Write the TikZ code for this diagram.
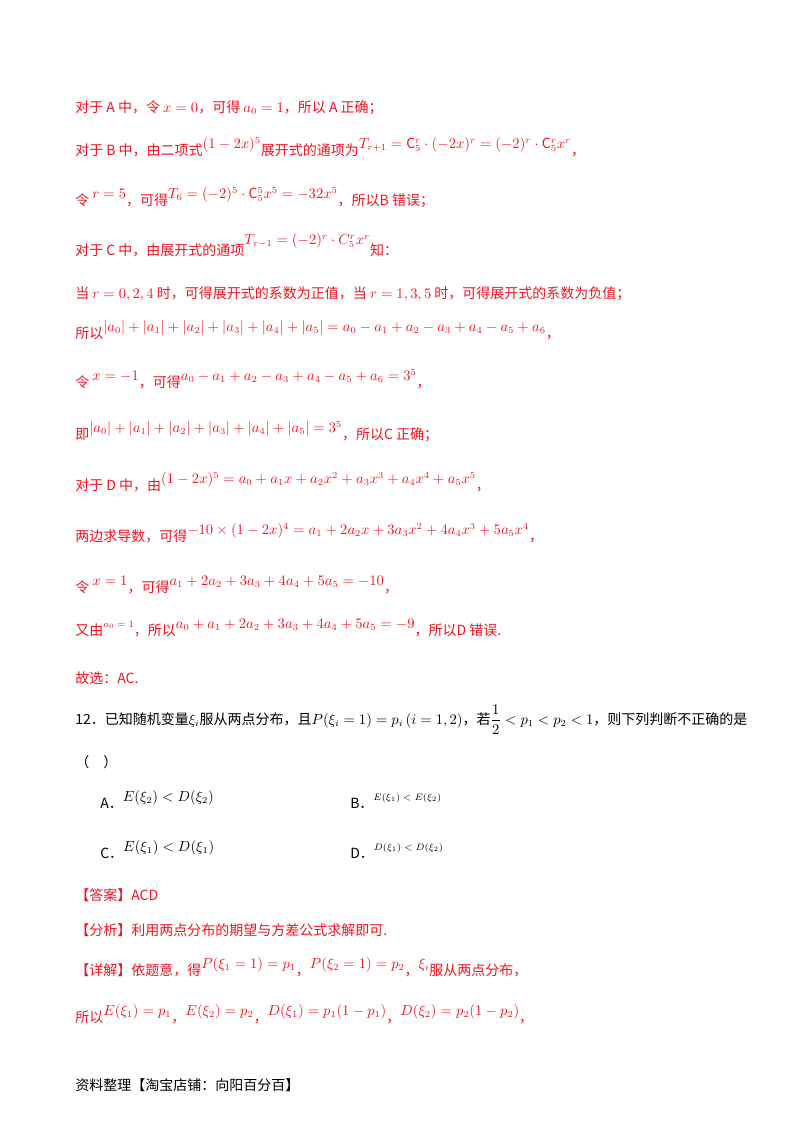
\documentclass[tikz,border=0pt]{standalone}
\usepackage{amsmath}
\usepackage{fontspec}
\setmainfont{Noto Sans CJK SC}
\definecolor{rd}{RGB}{240,20,30}
\newcommand{\upm}[1]{\raisebox{5pt}{$#1$}}
\newcommand{\ups}[1]{\raisebox{6pt}{\scriptsize$#1$}}
\begin{document}
\begin{tikzpicture}[x=0.75pt,y=-0.75pt,
  ln/.style={anchor=base west,inner sep=0pt,font=\fontsize{10.5}{12}\selectfont},
  red/.style={ln,text=rd}]
\useasboundingbox (0,0) rectangle (800,1132);
\fill[white] (0,0) rectangle (800,1132);
\node[red] (l1) at (75,112) {对于 A 中，令 $x=0$，可得 $a_0=1$，所以 A 正确；};
\node[red] (l2) at (75,155) {对于 B 中，由二项式\upm{(1-2x)^5}展开式的通项为\upm{T_{r+1}=\mathrm{C}_5^r\cdot(-2x)^r=(-2)^r\cdot\mathrm{C}_5^rx^r}，};
\node[red] (l3) at (75,205) {令 \upm{r=5}，可得\upm{T_6=(-2)^5\cdot\mathrm{C}_5^5x^5=-32x^5}，所以B 错误；};
\node[red] (l4) at (75,255) {对于 C 中，由展开式的通项\raisebox{8pt}{$T_{r-1}=(-2)^r\cdot C_5^rx^r$}知：};
\node[red] (l5) at (75,298) {当 $r=0,2,4$ 时，可得展开式的系数为正值，当 $r=1,3,5$ 时，可得展开式的系数为负值；};
\node[red] (l6) at (75,338) {所以\upm{|a_0|+|a_1|+|a_2|+|a_3|+|a_4|+|a_5|=a_0-a_1+a_2-a_3+a_4-a_5+a_6}，};
\node[red] (l7) at (75,387) {令 \upm{x=-1}，可得\upm{a_0-a_1+a_2-a_3+a_4-a_5+a_6=3^5}，};
\node[red] (l8) at (75,439) {即\upm{|a_0|+|a_1|+|a_2|+|a_3|+|a_4|+|a_5|=3^5}，所以C 正确；};
\node[red] (l9) at (75,490) {对于 D 中，由\upm{(1-2x)^5=a_0+a_1x+a_2x^2+a_3x^3+a_4x^4+a_5x^5}，};
\node[red] (l10) at (75,541) {两边求导数，可得\upm{-10\times(1-2x)^4=a_1+2a_2x+3a_3x^2+4a_4x^3+5a_5x^4}，};
\node[red] (l11) at (75,592) {令 \upm{x=1}，可得\upm{a_1+2a_2+3a_3+4a_4+5a_5=-10}，};
\node[red] (l12) at (75,635) {又由\ups{a_0=1}，所以\upm{a_0+a_1+2a_2+3a_3+4a_4+5a_5=-9}，所以D 错误.};
\node[red] (l13) at (75,683) {故选：AC.};
\node[ln] (q) at (75,724) {12．已知随机变量$\xi_i$服从两点分布，且$P(\xi_i=1)=p_i\,(i=1,2)$，若$\dfrac12<p_1<p_2<1$，则下列判断不正确的是};
\node[ln] (p) at (75,767) {（\quad）};
\node[ln] (A) at (100,808) {A．\upm{E(\xi_2)<D(\xi_2)}};
\node[ln] (B) at (350,808) {B．\ups{E(\xi_1)<E(\xi_2)}};
\node[ln] (C) at (100,858) {C．\upm{E(\xi_1)<D(\xi_1)}};
\node[ln] (D) at (350,858) {D．\ups{D(\xi_1)<D(\xi_2)}};
\node[red] (ans) at (75,900) {【答案】ACD};
\node[red] (fx) at (75,935) {【分析】利用两点分布的期望与方差公式求解即可.};
\node[red] (xj) at (75,975) {【详解】依题意，得\upm{P(\xi_1=1)=p_1}，\upm{P(\xi_2=1)=p_2}，\upm{\xi_i}服从两点分布，};
\node[red] (sy) at (75,1022) {所以\upm{E(\xi_1)=p_1}，\upm{E(\xi_2)=p_2}，\upm{D(\xi_1)=p_1(1-p_1)}，\upm{D(\xi_2)=p_2(1-p_2)}，};
\node[ln] (ft) at (75,1090) {资料整理【淘宝店铺：向阳百分百】};
\end{tikzpicture}
\end{document}
